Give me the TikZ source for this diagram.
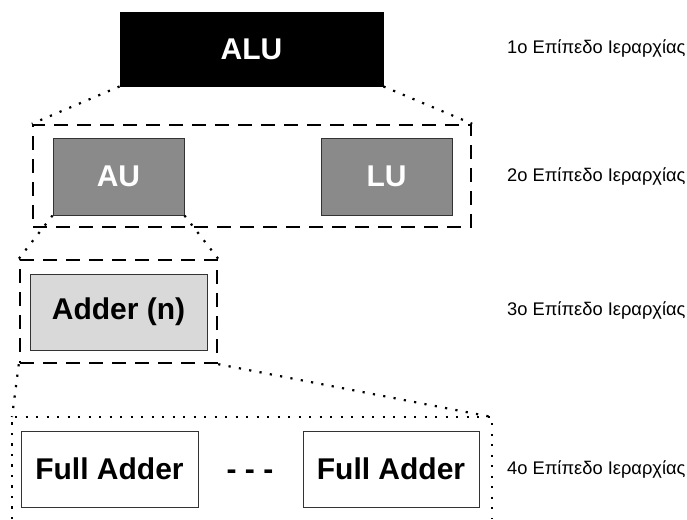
\documentclass[tikz,border=0pt]{standalone}
\usepackage{fontspec}
\setmainfont{Liberation Sans}
\definecolor{midgray}{HTML}{8A8A8A}
\definecolor{lightgray2}{HTML}{D9D9D9}
\begin{document}
\begin{tikzpicture}[x=1pt,y=-1pt,
  blk/.style={draw=#1, line width=0.9pt, inner sep=0pt, font=\fontsize{30}{34}\selectfont\bfseries},
  levelbox/.style={draw=black, line width=2.4pt, dash pattern=on 14pt off 9pt, inner sep=0pt},
  dotline/.style={line width=2.2pt, dash pattern=on 2.2pt off 8.3pt},
  lvllabel/.style={anchor=west, inner sep=0pt, font=\fontsize{18.3}{22}\selectfont}]
\useasboundingbox (0,0) rectangle (687,519);
% level boxes
\node[levelbox, minimum width=438pt, minimum height=102pt] (lvl2) at (252,176) {};
\node[levelbox, minimum width=197pt, minimum height=103pt] (lvl3) at (118.5,311.5) {};
% blocks
\node[blk=black, fill=black, text=white, minimum width=263pt, minimum height=74pt] (alu) at (251.5,49) {ALU};
\node[blk=black!80, fill=midgray, text=white, minimum width=131pt, minimum height=77pt] (au) at (118.5,176.5) {AU};
\node[blk=black!80, fill=midgray, text=white, minimum width=131pt, minimum height=77pt] (lu) at (386.5,176.5) {LU};
\node[blk=black!80, fill=lightgray2, minimum width=177pt, minimum height=76pt] (adder) at (118.5,312) {Adder (n)};
\node[blk=black!80, fill=white, minimum width=177pt, minimum height=76pt] (fa1) at (109.5,469) {Full Adder};
\node[blk=black!80, fill=white, minimum width=176pt, minimum height=76pt] (fa2) at (391,469) {Full Adder};
\node[inner sep=0pt, font=\fontsize{30}{34}\selectfont\bfseries] (dd) at (250,475) {- - -};
% level 4 open dotted box
\coordinate (l4nw) at (12,417);
\coordinate (l4ne) at (492,417);
\coordinate (l4sw) at (12,519);
\coordinate (l4se) at (492,519);
\draw[dotline] (l4sw) -- (l4nw) -- (l4ne) -- (l4se);
% dotted connectors
\draw[dotline] (alu.south west) -- (lvl2.north west);
\draw[dotline] (alu.south east) -- (lvl2.north east);
\draw[dotline] (au.south west) -- (lvl3.north west);
\draw[dotline] (au.south east) -- (lvl3.north east);
\draw[dotline] (lvl3.south west) -- (l4nw);
\draw[dotline] (lvl3.south east) -- (l4ne);
% labels
\node[lvllabel] (t1) at (507,49) {1o Επίπεδο Ιεραρχίας};
\node[lvllabel] (t2) at (507,177) {2o Επίπεδο Ιεραρχίας};
\node[lvllabel] (t3) at (507,311) {3o Επίπεδο Ιεραρχίας};
\node[lvllabel] (t4) at (507,469) {4o Επίπεδο Ιεραρχίας};
\end{tikzpicture}
\end{document}
